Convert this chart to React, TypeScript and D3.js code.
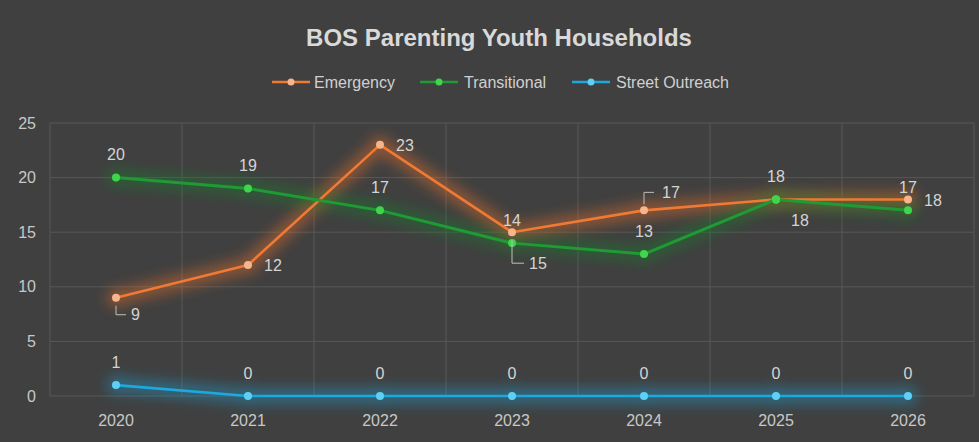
import React from 'react';
import * as d3 from 'd3';

const years = ['2020', '2021', '2022', '2023', '2024', '2025', '2026'];
const emergency = [9, 12, 23, 15, 17, 18, 18];
const transitional = [20, 19, 17, 14, 13, 18, 17];
const streetOutreach = [1, 0, 0, 0, 0, 0, 0];
const yTicks = [0, 5, 10, 15, 20, 25];
const seriesNames = ['Emergency', 'Transitional', 'Street Outreach'];

// label placement (style) for each series
type Place = { kind: 'above' | 'right' | 'below' | 'leaderBelow' | 'leaderAbove'; dx: number; dy: number };
const emergencyPlaces: Place[] = [
  { kind: 'leaderBelow', dx: 15, dy: 17 },
  { kind: 'right', dx: 16, dy: 1 },
  { kind: 'right', dx: 16, dy: 1 },
  { kind: 'leaderBelow', dx: 17, dy: 31 },
  { kind: 'leaderAbove', dx: 18, dy: -18 },
  { kind: 'below', dx: 15, dy: 21 },
  { kind: 'right', dx: 16, dy: 1 },
];
const abovePlace: Place = { kind: 'above', dx: 0, dy: -23 };

const W = 979;
const H = 442;
const plot = { left: 50, right: 974, top: 123, bottom: 396 };

const FONT = '"Liberation Sans", Arial, sans-serif';

export default function App() {
  const x = d3.scaleBand<string>().domain(years).range([plot.left, plot.right]);
  const cx = (yr: string) => (x(yr) as number) + x.bandwidth() / 2;
  const y = d3.scaleLinear().domain([0, 25]).range([plot.bottom, plot.top]);
  const line = d3
    .line<number>()
    .x((_, i) => cx(years[i]))
    .y((d) => y(d));

  const series = [
    { name: seriesNames[0], values: emergency, color: '#f07a35', glow: '#e8702c', marker: '#f8b48a', width: 2.6, places: emergencyPlaces },
    { name: seriesNames[1], values: transitional, color: '#1f9a35', glow: '#17802a', marker: '#3fd64c', width: 3, places: years.map(() => abovePlace) },
    { name: seriesNames[2], values: streetOutreach, color: '#1ea8e0', glow: '#1a9ccf', marker: '#5fd0f5', width: 2.6, places: years.map(() => abovePlace) },
  ];

  const labelColor = '#d4d4d4';
  const legendItems = [
    { x: 272, textX: 314 },
    { x: 420, textX: 464 },
    { x: 572, textX: 616 },
  ];

  return (
    <div style={{ position: 'fixed', left: 0, top: 0 }}>
      <svg width={W} height={H} style={{ display: 'block' }}>
        <defs>
          <filter id="glow" x="-20%" y="-80%" width="140%" height="260%">
            <feGaussianBlur stdDeviation="7" />
          </filter>
        </defs>
        <rect x={0} y={0} width={W} height={H} fill="#404040" />
        {/* gridlines */}
        {yTicks.map((t) => (
          <line key={'h' + t} x1={plot.left} x2={plot.right} y1={y(t)} y2={y(t)} stroke="#585858" strokeWidth={1} />
        ))}
        {years.map((yr) => (
          <line key={'v' + yr} x1={x(yr) as number} x2={x(yr) as number} y1={plot.top} y2={plot.bottom} stroke="#585858" strokeWidth={1} />
        ))}
        <line x1={plot.right} x2={plot.right} y1={plot.top} y2={plot.bottom} stroke="#585858" strokeWidth={1} />
        {/* y axis labels */}
        {yTicks.map((t) => (
          <text key={'yl' + t} x={36} y={y(t)} textAnchor="end" dominantBaseline="central" fill="#c8c8c8" fontSize={16} fontFamily={FONT}>
            {t}
          </text>
        ))}
        {/* x axis labels */}
        {years.map((yr) => (
          <text key={'xl' + yr} x={cx(yr)} y={420} textAnchor="middle" dominantBaseline="central" fill="#c8c8c8" fontSize={16} fontFamily={FONT}>
            {yr}
          </text>
        ))}
        {/* glows */}
        {series.map((s) => (
          <g key={'g' + s.name} filter="url(#glow)" opacity={0.5}>
            <path d={line(s.values) as string} fill="none" stroke={s.glow} strokeWidth={14} strokeLinejoin="round" />
            {s.values.map((v, i) => (
              <circle key={i} cx={cx(years[i])} cy={y(v)} r={9} fill={s.glow} />
            ))}
          </g>
        ))}
        {/* lines and markers */}
        {series.map((s) => (
          <g key={'l' + s.name}>
            <path d={line(s.values) as string} fill="none" stroke={s.color} strokeWidth={s.width} strokeLinejoin="round" />
            {s.values.map((v, i) => (
              <circle key={i} cx={cx(years[i])} cy={y(v)} r={4} fill={s.marker} />
            ))}
          </g>
        ))}
        {/* data labels */}
        {series.map((s) =>
          s.values.map((v, i) => {
            const px = cx(years[i]);
            const py = y(v);
            const p = s.places[i];
            const items: React.ReactNode[] = [];
            if (p.kind === 'above') {
              items.push(
                <text key="t" x={px} y={py + p.dy} textAnchor="middle" dominantBaseline="central" fill={labelColor} fontSize={16} fontFamily={FONT}>
                  {v}
                </text>
              );
            } else {
              if (p.kind === 'leaderBelow') {
                items.push(
                  <path key="ld" d={`M${px},${py + 8}V${py + p.dy}H${px + p.dx - 5}`} fill="none" stroke="#bfbfbf" strokeWidth={1} />
                );
              } else if (p.kind === 'leaderAbove') {
                items.push(
                  <path key="ld" d={`M${px},${py - 6}V${py + p.dy}H${px + p.dx - 8}`} fill="none" stroke="#bfbfbf" strokeWidth={1} />
                );
              }
              items.push(
                <text key="t" x={px + p.dx} y={py + p.dy} textAnchor="start" dominantBaseline="central" fill={labelColor} fontSize={16} fontFamily={FONT}>
                  {v}
                </text>
              );
            }
            return <g key={s.name + i}>{items}</g>;
          })
        )}
        {/* title */}
        <text x={499} y={37} textAnchor="middle" dominantBaseline="central" fill="#d9d9d9" fontSize={24} fontWeight="bold" fontFamily={FONT}>
          BOS Parenting Youth Households
        </text>
        {/* legend */}
        {series.map((s, i) => {
          const li = legendItems[i];
          return (
            <g key={'lg' + s.name}>
              <line x1={li.x} x2={li.x + 38} y1={82} y2={82} stroke={s.color} strokeWidth={2.6} />
              <circle cx={li.x + 19} cy={82} r={3.5} fill={s.marker} />
              <text x={li.textX} y={82} dominantBaseline="central" fill="#d0d0d0" fontSize={16} fontFamily={FONT}>
                {s.name}
              </text>
            </g>
          );
        })}
      </svg>
    </div>
  );
}
